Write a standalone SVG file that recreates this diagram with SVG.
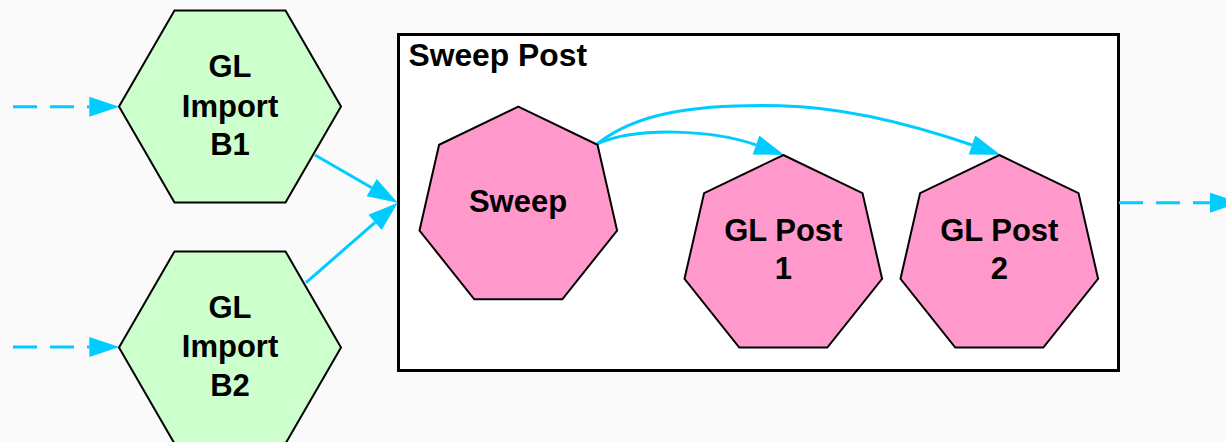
<svg xmlns="http://www.w3.org/2000/svg" width="1226" height="442" viewBox="0 0 1226 442">
<style>
.lbl{font-family:"Liberation Sans",Arial,sans-serif;font-weight:bold;font-size:31px;fill:#000;text-anchor:middle}
.hex{fill:#ccffcc;stroke:#000;stroke-width:2}
.hep{fill:#ff99cc;stroke:#000;stroke-width:2}
.edge{fill:none;stroke:#00ccff;stroke-width:3}
.dash{stroke-dasharray:24 13}
</style>
<defs>
<marker id="ah" markerUnits="userSpaceOnUse" markerWidth="30" markerHeight="20" refX="0" refY="10" orient="auto" overflow="visible">
<path d="M0,0 L30,10 L0,20 z" fill="#00ccff"/>
</marker>
</defs>
<rect x="0" y="0" width="1226" height="442" fill="#fafafa"/>
<g id="cluster_sweep_post">
<rect x="398.5" y="34.5" width="720" height="336" fill="#ffffff" stroke="#000" stroke-width="3"/>
<text x="408.5" y="65.5" font-family="Liberation Sans, Arial, sans-serif" font-weight="bold" font-size="31.8">Sweep Post</text>
</g>
<g id="connectors">
<path class="edge dash" d="M13,106.7 L89.3,106.7" marker-end="url(#ah)"/>
<path class="edge dash" d="M13,347 L89.3,347" marker-end="url(#ah)"/>
<path class="edge" d="M315,155 L371.7,187.7" marker-end="url(#ah)"/>
<path class="edge" d="M306,282.7 L375.1,222.4" marker-end="url(#ah)"/>
<path class="edge" d="M597,144 C637,126 714,130 756,145" marker-end="url(#ah)"/>
<path class="edge" d="M597,144 C635,114 690,104 780,105.7 C840,106.8 905,122 972,145" marker-end="url(#ah)"/>
<path class="edge dash" d="M1119,202.7 L1210,202.7" marker-end="url(#ah)"/>
</g>
<g id="gl_import_b1">
<polygon class="hex" points="119,106.5 174.5,10.4 285.5,10.4 341,106.5 285.5,202.6 174.5,202.6"/>
<text class="lbl" x="230" y="77">GL</text>
<text class="lbl" x="230" y="116.5">Import</text>
<text class="lbl" x="230" y="155">B1</text>
</g>
<g id="gl_import_b2">
<polygon class="hex" points="119,347.5 174.5,251.4 285.5,251.4 341,347.5 285.5,443.6 174.5,443.6"/>
<text class="lbl" x="230" y="318">GL</text>
<text class="lbl" x="230" y="357">Import</text>
<text class="lbl" x="230" y="396">B2</text>
</g>
<g id="sweep">
<polygon class="hep" points="518.3,106.7 597.5,144.8 617.1,230.5 562.3,299.3 474.3,299.3 419.5,230.5 439.1,144.8"/>
<text class="lbl" x="518" y="212">Sweep</text>
</g>
<g id="gl_post_1">
<polygon class="hep" points="783.3,155 862.5,193.1 882.1,278.8 827.3,347.6 739.3,347.6 684.5,278.8 704.1,193.1"/>
<text class="lbl" x="783.3" y="240.5">GL Post</text>
<text class="lbl" x="783.3" y="279">1</text>
</g>
<g id="gl_post_2">
<polygon class="hep" points="999.3,155 1078.5,193.1 1098.1,278.8 1043.3,347.6 955.3,347.6 900.5,278.8 920.1,193.1"/>
<text class="lbl" x="999.3" y="240.5">GL Post</text>
<text class="lbl" x="999.3" y="279">2</text>
</g>
</svg>
